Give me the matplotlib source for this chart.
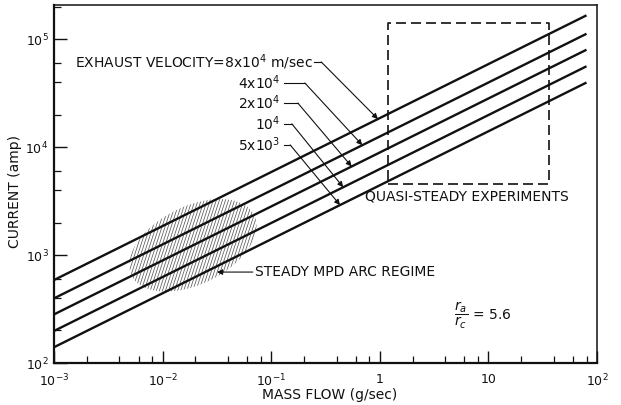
import matplotlib

matplotlib.use("Agg")
import matplotlib.pyplot as plt  # noqa: E402
import numpy as np  # noqa: E402
from matplotlib.patches import Polygon  # noqa: E402
from matplotlib.ticker import FixedLocator, LogLocator, NullFormatter  # noqa: E402

INK = "#111111"
HATCH = "#5a5a5a"

# exhaust velocity lines: current (amp) read at both ends of the mass-flow range
velocity_labels = ["EXHAUST VELOCITY=8x10$^4$ m/sec", "4x10$^4$", "2x10$^4$", "10$^4$", "5x10$^3$"]
flow_ends = [1e-3, 80.0]
current_start = [587, 397, 282, 198, 140]
current_end = [1.66e5, 1.12e5, 7.97e4, 5.6e4, 3.96e4]
arrow_flow = [0.96, 0.69, 0.55, 0.46, 0.43]

# quasi-steady experiments box (mass flow, current)
box_flow = [1.18, 36.0]
box_current = [4540, 1.41e5]

# steady MPD arc regime (hatched ellipse): centre and half-axes in decades
regime_center = (0.019, 1230)
regime_axes = (0.63, 0.36)
regime_angle = 26.6

x_ticks = [1e-3, 1e-2, 1e-1, 1, 10, 100]
x_tick_labels = ["10$^{-3}$", "10$^{-2}$", "10$^{-1}$", "1", "10", "10$^2$"]
y_ticks = [1e2, 1e3, 1e4, 1e5]
y_tick_labels = ["10$^2$", "10$^3$", "10$^4$", "10$^5$"]

plt.rcParams.update({"font.family": "DejaVu Sans", "font.size": 10, "text.color": INK,
                     "mathtext.fontset": "dejavusans"})

fig = plt.figure(figsize=(6.21, 4.05), dpi=100)
ax = fig.add_axes([0.087, 0.1037, 0.8744, 0.884])
ax.set_xscale("log")
ax.set_yscale("log")
ax.set_xlim(1e-3, 1e2)
ax.set_ylim(1e2, 2.07e5)

for c0, c1 in zip(current_start, current_end):
    ax.plot(flow_ends, [c0, c1], color=INK, lw=1.7, solid_capstyle="butt", zorder=3)

# dashed box
bx = [box_flow[0], box_flow[1], box_flow[1], box_flow[0], box_flow[0]]
by = [box_current[0], box_current[0], box_current[1], box_current[1], box_current[0]]
ax.plot(bx, by, color=INK, lw=1.2, dashes=(6, 3), zorder=2)

# hatched ellipse, built in log space
t = np.linspace(0, 2 * np.pi, 200)
th = np.radians(regime_angle)
lx0, ly0 = np.log10(regime_center[0]), np.log10(regime_center[1])
ea, eb = regime_axes
ex = lx0 + ea * np.cos(t) * np.cos(th) - eb * np.sin(t) * np.sin(th)
ey = ly0 + ea * np.cos(t) * np.sin(th) + eb * np.sin(t) * np.cos(th)
clip = Polygon(np.column_stack([10 ** ex, 10 ** ey]), closed=True, facecolor="none",
               edgecolor="none", transform=ax.transData)
ax.add_patch(clip)
slope = np.tan(np.radians(72))
for off in np.arange(lx0 - 0.9, lx0 + 0.9, 0.028):
    hx = np.array([off - 0.5 / slope, off + 0.5 / slope])
    hy = np.array([ly0 - 0.5, ly0 + 0.5])
    ln, = ax.plot(10 ** hx, 10 ** hy, color=HATCH, lw=0.55, zorder=1)
    ln.set_clip_path(clip)

# leader lines and labels
text_pos = [(0.477, 0.841), (0.416, 0.782), (0.416, 0.726), (0.416, 0.668), (0.416, 0.609)]
stub = [(0.479, 0.492), (0.424, 0.462), (0.424, 0.449), (0.424, 0.438), (0.424, 0.435)]
lflow = np.log10(flow_ends)
for i, lab in enumerate(velocity_labels):
    tx, ty = text_pos[i]
    ax.text(tx, ty, lab, transform=ax.transAxes, ha="right", va="center", fontsize=10)
    s0, s1 = stub[i]
    ax.plot([s0, s1], [ty, ty], color=INK, lw=0.8, transform=ax.transAxes)
    tip_y = 10 ** np.interp(np.log10(arrow_flow[i]), lflow,
                            np.log10([current_start[i], current_end[i]]))
    ax.annotate("", xy=(arrow_flow[i], tip_y), xycoords="data",
                xytext=(s1, ty), textcoords="axes fraction",
                arrowprops=dict(arrowstyle="-|>", color=INK, lw=0.8,
                                mutation_scale=8, shrinkA=0, shrinkB=0))

ax.text(0.573, 0.466, "QUASI-STEADY EXPERIMENTS", transform=ax.transAxes,
        ha="left", va="center", fontsize=10)
ax.text(0.370, 0.254, "STEADY MPD ARC REGIME", transform=ax.transAxes,
        ha="left", va="center", fontsize=10)
ax.annotate("", xy=(0.300, 0.254), xycoords="axes fraction",
            xytext=(0.366, 0.254), textcoords="axes fraction",
            arrowprops=dict(arrowstyle="-|>", color=INK, lw=0.8,
                            mutation_scale=8, shrinkA=0, shrinkB=0))
ax.text(0.737, 0.134, r"$\dfrac{r_a}{r_c}$ = 5.6", transform=ax.transAxes,
        ha="left", va="center", fontsize=10)

# axes styling
ax.xaxis.set_major_locator(FixedLocator(x_ticks))
ax.set_xticklabels(x_tick_labels)
ax.yaxis.set_major_locator(FixedLocator(y_ticks))
ax.set_yticklabels(y_tick_labels)
ax.xaxis.set_minor_locator(LogLocator(base=10, subs=[2, 4, 6, 8]))
ax.yaxis.set_minor_locator(LogLocator(base=10, subs=[2, 4, 6]))
ax.xaxis.set_minor_formatter(NullFormatter())
ax.yaxis.set_minor_formatter(NullFormatter())
ax.tick_params(which="major", direction="in", length=9, width=1.0, colors=INK,
               labelsize=9, pad=4, top=False, right=False)
ax.tick_params(axis="x", which="major", pad=7)
ax.tick_params(which="minor", direction="in", length=5, width=0.9, colors=INK,
               top=False, right=False)
for side in ["left", "bottom"]:
    ax.spines[side].set_linewidth(1.6)
for side in ["top", "right"]:
    ax.spines[side].set_linewidth(1.1)
for sp in ax.spines.values():
    sp.set_color(INK)

fig.text(330 / 621, 1 - 395 / 405, "MASS FLOW (g/sec)", ha="center", va="center", fontsize=10)
fig.text(15 / 621, 1 - 191 / 405, "CURRENT (amp)", ha="center", va="center",
         rotation=90, fontsize=10)

fig.savefig("out.png", dpi=100, facecolor="white")
